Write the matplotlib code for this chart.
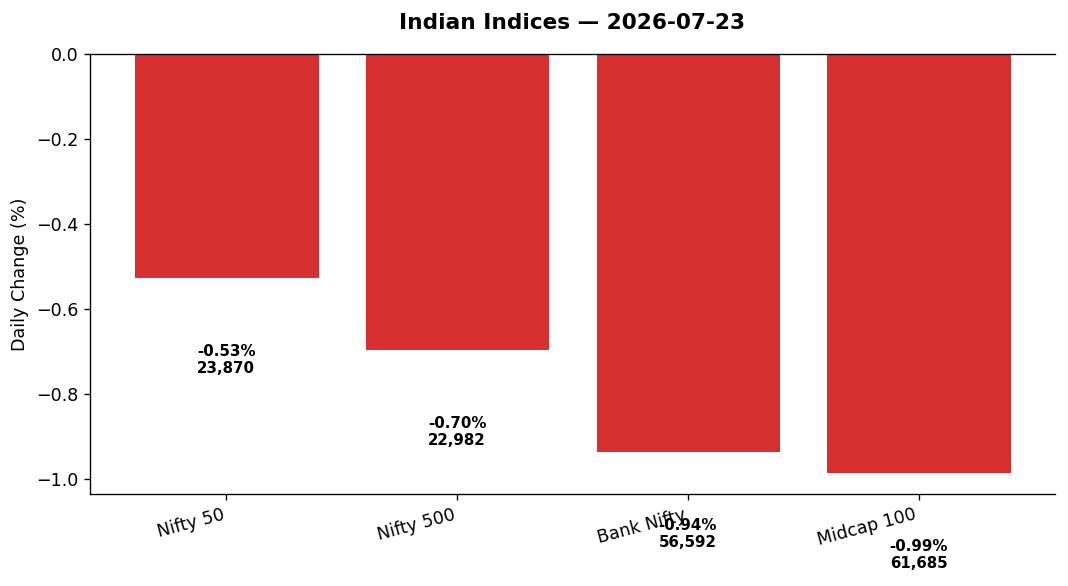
import matplotlib
matplotlib.use("Agg")
import matplotlib.pyplot as plt

indices = ["Nifty 50", "Nifty 500", "Bank Nifty", "Midcap 100"]
changes = [-0.527, -0.697, -0.937, -0.987]
change_labels = ["-0.53%", "-0.70%", "-0.94%", "-0.99%"]
levels = ["23,870", "22,982", "56,592", "61,685"]

DPI = 120
fig = plt.figure(figsize=(1068 / DPI, 586 / DPI), dpi=DPI)
ax = fig.add_axes([0.0843, 0.157, 0.9035, 0.7508])

x = list(range(len(indices)))
ax.bar(x, changes, width=0.8, color="#d63031", edgecolor="white", linewidth=0.6)
for xi, v, cl, lv in zip(x, changes, change_labels, levels):
    ax.text(xi, v - 0.155, f"{cl}\n{lv}", ha="center", va="top",
            fontsize=9, fontweight="bold")

ax.set_ylim(-1.036, 0)
ax.set_xticks(x)
ax.set_xticklabels(indices, rotation=15, ha="right", fontsize=10.5)
ax.tick_params(axis="y", labelsize=10.5)
ax.set_ylabel("Daily Change (%)", fontsize=10.5)
ax.set_title("Indian Indices — 2026-07-23", fontsize=13, fontweight="bold", pad=15)
ax.spines["right"].set_visible(False)

fig.savefig("out.png", dpi=DPI)
